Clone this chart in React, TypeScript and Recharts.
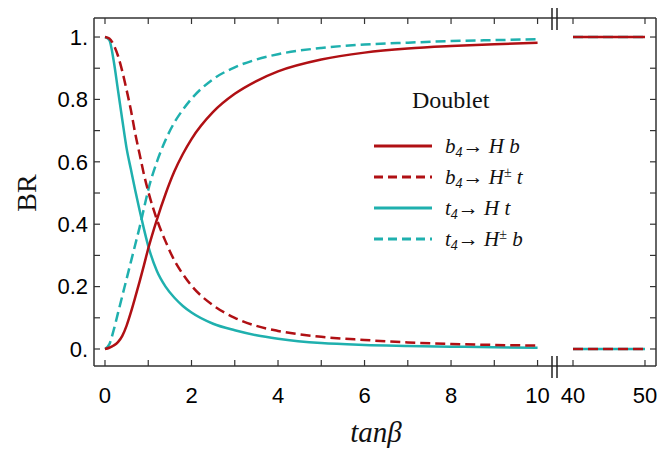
import React from 'react';
import { LineChart, Line, XAxis, YAxis, Legend } from 'recharts';

// ---------- data ----------
const tanBeta = [0, 0.1, 0.2, 0.3, 0.4, 0.5, 0.6, 0.7, 0.8, 0.9, 1.0, 1.2, 1.4, 1.6, 1.8, 2.0, 2.5, 3.0, 3.5, 4.0, 5.0, 6.0, 7.0, 8.0, 9.0, 10.0];
const bToHb = [0, 0.004, 0.011, 0.022, 0.042, 0.075, 0.118, 0.166, 0.216, 0.268, 0.322, 0.415, 0.497, 0.568, 0.625, 0.673, 0.76, 0.818, 0.859, 0.89, 0.928, 0.95, 0.963, 0.971, 0.977, 0.982];
const bToHct = [1.0, 0.995, 0.975, 0.94, 0.89, 0.83, 0.765, 0.69, 0.625, 0.56, 0.505, 0.415, 0.345, 0.285, 0.24, 0.203, 0.14, 0.1, 0.074, 0.058, 0.039, 0.029, 0.021, 0.016, 0.013, 0.011];
const tToHt = [1.0, 0.99, 0.925, 0.83, 0.735, 0.643, 0.575, 0.508, 0.445, 0.385, 0.33, 0.25, 0.2, 0.165, 0.138, 0.117, 0.081, 0.06, 0.044, 0.033, 0.019, 0.013, 0.01, 0.0075, 0.0055, 0.004];
const tToHcb = [0, 0.015, 0.06, 0.115, 0.17, 0.225, 0.28, 0.335, 0.39, 0.45, 0.51, 0.6, 0.67, 0.725, 0.767, 0.802, 0.865, 0.903, 0.928, 0.945, 0.965, 0.976, 0.982, 0.987, 0.99, 0.993];

const tanBetaHigh = [40, 50];
const bToHbHigh = [1, 1];
const bToHctHigh = [0, 0];
const tToHtHigh = [0, 0];
const tToHcbHigh = [1, 1];

const xTicksLow = [0, 1, 2, 3, 4, 5, 6, 7, 8, 9, 10];
const xTickLabelsLow = ['0', '', '2', '', '4', '', '6', '', '8', '', '10'];
const xTicksHigh = [40, 50];
const xTickLabelsHigh = ['40', '50'];
const yTicks = [0, 0.1, 0.2, 0.3, 0.4, 0.5, 0.6, 0.7, 0.8, 0.9, 1.0];
const yTickLabels = ['0.', '', '0.2', '', '0.4', '', '0.6', '', '0.8', '', '1.'];

const legendTitle = 'Doublet';

// ---------- styling ----------
const W = 659;
const H = 458;
const RED = '#B01014';
const CYAN = '#1FB0AE';
const DASH = '10 5';
const FRAME = '#333';
const SANS = '"Liberation Sans", Arial, Helvetica, sans-serif';
const SERIF = '"Liberation Serif", "Times New Roman", Times, serif';

const lowData = tanBeta.map((t, i) => ({ t, bHb: bToHb[i], bHct: bToHct[i], tHt: tToHt[i], tHcb: tToHcb[i] }));
const highData = tanBetaHigh.map((t, i) => ({ t, bHb: bToHbHigh[i], bHct: bToHctHigh[i], tHt: tToHtHigh[i], tHcb: tToHcbHigh[i] }));

type Series = { key: string; name: string; color: string; dash?: string; q: string; sup: boolean; last: string };
// drawing order (bottom first)
const series: Series[] = [
  { key: 'tHcb', name: 't4→H± b', color: CYAN, dash: DASH, q: 't', sup: true, last: 'b' },
  { key: 'tHt', name: 't4→H t', color: CYAN, q: 't', sup: false, last: 't' },
  { key: 'bHct', name: 'b4→H± t', color: RED, dash: DASH, q: 'b', sup: true, last: 't' },
  { key: 'bHb', name: 'b4→H b', color: RED, q: 'b', sup: false, last: 'b' },
];
const legendOrder = ['bHb', 'bHct', 'tHt', 'tHcb'];

const yDomain = [-0.0545, 1.061];
const xDomainLow = [-0.254, 10.38];
const xDomainHigh = [37.36, 51.53];

const axisLine = { stroke: FRAME, strokeWidth: 1.5 };
const tickLine = { stroke: FRAME, strokeWidth: 1.2 };
const tickStyle = { fill: '#000', fontSize: 22, fontFamily: SANS };

const LegendBox = () => (
  <svg width={220} height={190} style={{ overflow: 'visible' }}>
    <text x={52} y={28} fontFamily={SERIF} fontSize={24} fill="#111">{legendTitle}</text>
    {legendOrder.map((k, i) => {
      const s = series.find((d) => d.key === k)!;
      const y = 66 + i * 31;
      return (
        <g key={k}>
          <line x1={14} x2={72} y1={y} y2={y} stroke={s.color} strokeWidth={3} strokeDasharray={s.dash ? '9 5' : undefined} />
          <text x={85} y={y + 7} fontFamily={SERIF} fontSize={21} fontStyle="italic" fill="#111">
            {s.q}
            <tspan fontSize={14} dy={4}>4</tspan>
            <tspan dy={-4} fontStyle="normal">→ </tspan>
            <tspan>H</tspan>
            {s.sup ? <tspan fontSize={14} dy={-7} fontStyle="normal">±</tspan> : null}
            <tspan dy={s.sup ? 7 : 0}>{' ' + s.last}</tspan>
          </text>
        </g>
      );
    })}
  </svg>
);

export default function App() {
  return (
    <div style={{ position: 'absolute', left: 0, top: 0, width: W, height: H, background: '#fff' }}>
      <div style={{ position: 'absolute', left: 0, top: 0 }}>
        <LineChart width={W} height={H} data={lowData} margin={{ top: 8, right: 105, bottom: 62, left: 34 }}>
          <XAxis
            dataKey="t" type="number" domain={xDomainLow} allowDataOverflow ticks={xTicksLow}
            tickFormatter={(v: number) => xTickLabelsLow[xTicksLow.indexOf(v)] ?? ''}
            height={30} tickSize={-6} tickMargin={27} axisLine={axisLine} tickLine={tickLine} tick={tickStyle}
            interval={0}
          />
          <XAxis
            xAxisId="top" orientation="top" dataKey="t" type="number" domain={xDomainLow} allowDataOverflow ticks={xTicksLow}
            tickFormatter={() => ''} height={10} tickSize={-6} tickMargin={8} axisLine={axisLine} tickLine={tickLine} interval={0}
          />
          <YAxis
            type="number" domain={yDomain} allowDataOverflow ticks={yTicks} width={60}
            tickFormatter={(v: number) => yTickLabels[yTicks.indexOf(v)] ?? ''}
            tickSize={-6} tickMargin={12} axisLine={axisLine} tickLine={tickLine} tick={tickStyle} interval={0}
          />
          {series.map((s) => (
            <Line key={s.key} dataKey={s.key} name={s.name} type="monotone" stroke={s.color} strokeWidth={2.5}
              strokeDasharray={s.dash} dot={false} activeDot={false} isAnimationActive={false} />
          ))}
          <Legend layout="vertical" align="center" verticalAlign="middle"
            wrapperStyle={{ left: 360, top: 80, width: 220, height: 190 }} content={() => <LegendBox />} />
        </LineChart>
      </div>
      <div style={{ position: 'absolute', left: 0, top: 0 }}>
        <LineChart width={W} height={H} data={highData} margin={{ top: 8, right: 0, bottom: 62, left: 554 }}>
          <XAxis
            dataKey="t" type="number" domain={xDomainHigh} allowDataOverflow ticks={xTicksHigh}
            tickFormatter={(v: number) => xTickLabelsHigh[xTicksHigh.indexOf(v)] ?? ''}
            height={30} tickSize={-6} tickMargin={27} axisLine={axisLine} tickLine={tickLine} tick={tickStyle} interval={0}
          />
          <XAxis
            xAxisId="top" orientation="top" dataKey="t" type="number" domain={xDomainHigh} allowDataOverflow ticks={xTicksHigh}
            tickFormatter={() => ''} height={10} tickSize={-6} tickMargin={8} axisLine={axisLine} tickLine={tickLine} interval={0}
          />
          <YAxis
            orientation="right" type="number" domain={yDomain} allowDataOverflow ticks={yTicks} width={3}
            tickFormatter={() => ''} tickSize={-6} tickMargin={8} axisLine={axisLine} tickLine={tickLine} interval={0}
          />
          {series.map((s) => (
            <Line key={s.key} dataKey={s.key} name={s.name} type="linear" stroke={s.color} strokeWidth={2.5}
              strokeDasharray={s.dash} dot={false} activeDot={false} isAnimationActive={false} />
          ))}
        </LineChart>
      </div>
      <svg width={W} height={H} style={{ position: 'absolute', left: 0, top: 0, pointerEvents: 'none' }}>
        <g stroke="#222" strokeWidth={1.5}>
          <line x1={552} x2={552} y1={8} y2={30} />
          <line x1={557} x2={557} y1={8} y2={30} />
          <line x1={552} x2={552} y1={356} y2={378} />
          <line x1={557} x2={557} y1={356} y2={378} />
        </g>
        <text transform="translate(26,193) rotate(-90)" textAnchor="middle" dominantBaseline="central"
          fontFamily={SERIF} fontSize={28} fill="#111">BR</text>
        <text x={376} y={442} textAnchor="middle" fontFamily={SERIF} fontStyle="italic" fontSize={29} fill="#111">tanβ</text>
      </svg>
    </div>
  );
}
